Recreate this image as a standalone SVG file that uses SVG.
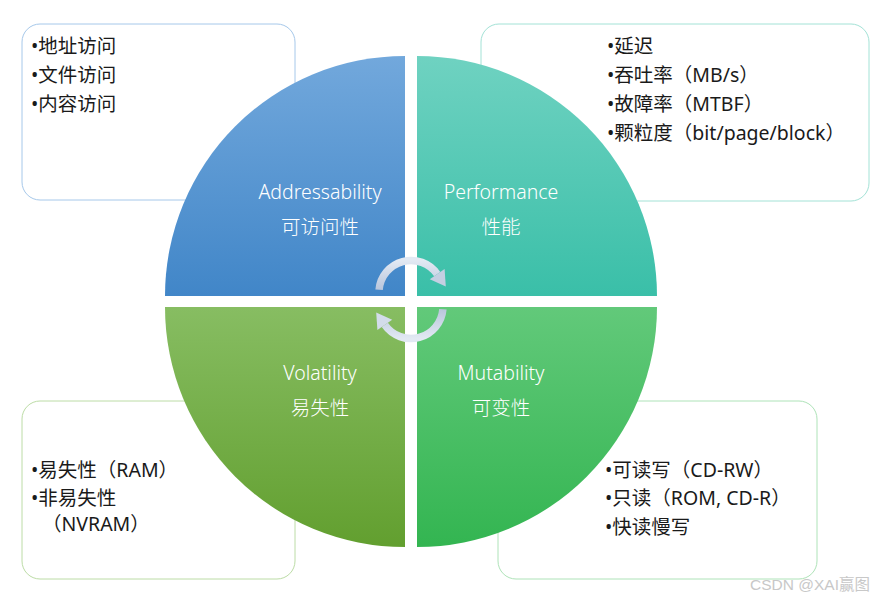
<svg xmlns="http://www.w3.org/2000/svg" width="875" height="600" viewBox="0 0 875 600">
<style>
.box{fill:#fff;stroke-width:1}
.t{font-family:"Noto Sans","Noto Sans CJK SC",sans-serif;font-size:19.5px;fill:#1a1a1a}
.q{font-family:"Noto Sans","Noto Sans CJK SC",sans-serif;font-size:19.5px;fill:#fff;text-anchor:middle;font-weight:300}
.arc{fill:none;stroke:url(#ga);stroke-width:7.5}
</style>
<defs>
<linearGradient id="g1" x1="0" y1="0" x2="0" y2="1"><stop offset="0" stop-color="#72a8dc"/><stop offset="1" stop-color="#4186c8"/></linearGradient>
<linearGradient id="g2" x1="0" y1="0" x2="0" y2="1"><stop offset="0" stop-color="#6fd2c1"/><stop offset="1" stop-color="#3abfa8"/></linearGradient>
<linearGradient id="g3" x1="0" y1="0" x2="0" y2="1"><stop offset="0" stop-color="#87bd62"/><stop offset="1" stop-color="#629f2f"/></linearGradient>
<linearGradient id="g4" x1="0" y1="0" x2="0" y2="1"><stop offset="0" stop-color="#62c97a"/><stop offset="1" stop-color="#33b551"/></linearGradient>
<linearGradient id="ga" x1="0" y1="0" x2="0" y2="1"><stop offset="0" stop-color="#e2e9f3"/><stop offset="1" stop-color="#b9c6dc"/></linearGradient>
</defs>
<g id="box-tl"><rect class="box" x="22" y="24" width="273" height="176" rx="18" stroke="#a6c8ea"/>
<text class="t" x="31" y="53">•地址访问</text><text class="t" x="31" y="82">•文件访问</text><text class="t" x="31" y="111">•内容访问</text></g>
<g id="box-tr"><rect class="box" x="481" y="24" width="388" height="177" rx="18" stroke="#a3e2d6"/>
<text class="t" x="607" y="53">•延迟</text><text class="t" x="607" y="82">•吞吐率（MB/s）</text><text class="t" x="607" y="111">•故障率（MTBF）</text><text class="t" x="607" y="140">•颗粒度（bit/page/block）</text></g>
<g id="box-bl"><rect class="box" x="22" y="401" width="273" height="178" rx="18" stroke="#bcdca6"/>
<text class="t" x="31" y="477">•易失性（RAM）</text><text class="t" x="31" y="505">•非易失性</text><text class="t" x="42" y="531">（NVRAM）</text></g>
<g id="box-br"><rect class="box" x="498" y="401" width="319" height="178" rx="18" stroke="#aee3b8"/>
<text class="t" x="605" y="477">•可读写（CD-RW）</text><text class="t" x="605" y="505">•只读（ROM, CD-R）</text><text class="t" x="605" y="534">•快读慢写</text></g>
<g id="q-addr"><path d="M405,296 L165,296 A240,240 0 0 1 405,56 Z" fill="url(#g1)"/>
<text class="q" x="320" y="199">Addressability</text><text class="q" x="320" y="234">可访问性</text></g>
<g id="q-perf"><path d="M417,296 L417,56 A240,240 0 0 1 657,296 Z" fill="url(#g2)"/>
<text class="q" x="501" y="199">Performance</text><text class="q" x="501" y="234">性能</text></g>
<g id="q-vol"><path d="M405,307 L405,547 A240,240 0 0 1 165,307 Z" fill="url(#g3)"/>
<text class="q" x="320" y="380">Volatility</text><text class="q" x="320" y="415">易失性</text></g>
<g id="q-mut"><path d="M417,307 L657,307 A240,240 0 0 1 417,547 Z" fill="url(#g4)"/>
<text class="q" x="501" y="380">Mutability</text><text class="q" x="501" y="415">可变性</text></g>
<g id="connectors">
<g id="arrow-top"><path class="arc" d="M379.1,289.7 A32,32 0 0 1 437.2,274.1"/><polygon points="444.6,268.9 429.8,279.3 445.8,286.4" fill="#c4cfe2"/></g>
<g id="arrow-bottom" transform="rotate(180 411 299.5)"><path class="arc" d="M379.1,289.7 A32,32 0 0 1 437.2,274.1"/><polygon points="444.6,268.9 429.8,279.3 445.8,286.4" fill="#d3dcea"/></g>
</g>
<text x="870" y="590" font-family="Liberation Sans,sans-serif" font-size="15.5" fill="#c8c8c8" text-anchor="end">CSDN @XAI<tspan font-family="Noto Sans CJK SC">赢图</tspan></text>
</svg>
